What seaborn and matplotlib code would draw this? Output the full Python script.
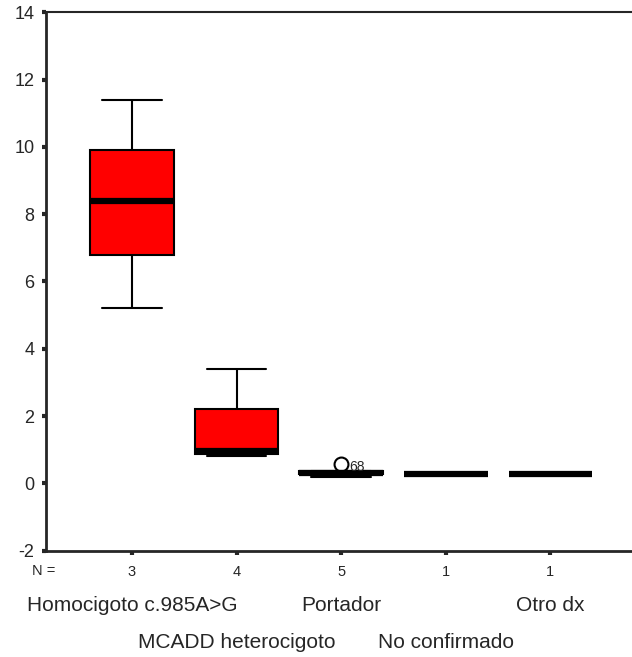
import numpy as np
import pandas as pd
import matplotlib
matplotlib.use("Agg")
import matplotlib.pyplot as plt
import seaborn as sns

# %% data (five-number summaries, plus outliers)
grupos = ['Homocigoto c.985A>G', 'MCADD heterocigoto', 'Portador', 'No confirmado', 'Otro dx']
n_casos = [3, 4, 5, 1, 1]
homocigoto = [5.2, 6.8, 8.4, 9.9, 11.4]
heterocigoto = [0.8, 0.86, 0.95, 2.2, 3.4]
portador = [0.2, 0.28, 0.32, 0.36, 0.58]
no_confirmado = [0.27]
otro_dx = [0.27]
outlier_id = '68'
outlier_valor = 0.58

valores = [homocigoto, heterocigoto, portador, no_confirmado, otro_dx]
df = pd.DataFrame({
    'grupo': np.repeat(grupos, [len(v) for v in valores]),
    'valor': np.concatenate(valores),
})

# %% plot
sns.set_style('ticks')
plt.rcParams['font.family'] = ['Liberation Sans', 'DejaVu Sans']
plt.rcParams['axes.unicode_minus'] = False

fig = plt.figure(figsize=(6.32, 6.57), dpi=100)
ax = fig.add_axes([0.0723, 0.1618, 0.9277, 0.8195])

sns.boxplot(data=df, x='grupo', y='valor', order=grupos, color='#FF0000',
            saturation=1, width=0.8, linecolor='black', linewidth=1.5,
            whis=1.5, fliersize=10, capwidths=0.57,
            medianprops=dict(linewidth=4.5, color='black'),
            flierprops=dict(marker='o', markerfacecolor='none',
                            markeredgecolor='black', markeredgewidth=1.5),
            ax=ax)

ax.annotate(outlier_id, xy=(2, outlier_valor), xytext=(6, -2),
            textcoords='offset points', ha='left', va='center', fontsize=10)

ax.set_xlim(-0.825, 4.78)
ax.set_ylim(-2, 14)
ax.set_yticks(np.arange(-2, 15, 2))
ax.set_xticks(range(len(grupos)))
ax.set_xticklabels([str(n) for n in n_casos], fontsize=10.5)
ax.tick_params(axis='y', labelsize=13, length=3, width=3, pad=5)
ax.tick_params(axis='x', length=3, width=3, pad=7)
ax.set_xlabel('')
ax.set_ylabel('')

for side in ['left', 'bottom']:
    ax.spines[side].set_linewidth(2)
ax.spines['top'].set_visible(True)
ax.spines['top'].set_linewidth(1.5)
ax.spines['right'].set_visible(False)

# staggered category names
for i, g in enumerate(grupos):
    ax.text(i, -0.1009 if i % 2 == 0 else -0.1696, g,
            transform=ax.get_xaxis_transform(), ha='center', va='center',
            fontsize=15)

fig.text(0.0696, 0.1309, 'N =', ha='center', va='center', fontsize=10.5)

fig.savefig('out.png', dpi=100)
